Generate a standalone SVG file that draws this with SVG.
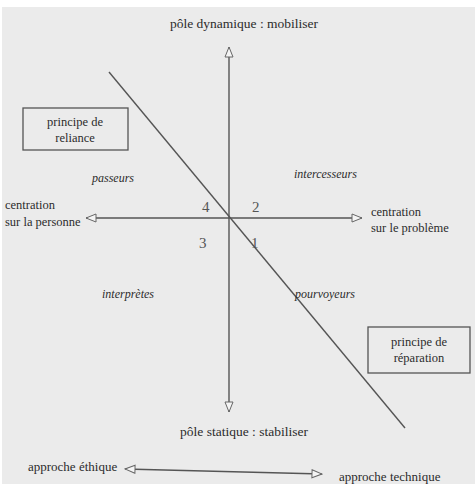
<svg xmlns="http://www.w3.org/2000/svg" width="475" height="484" viewBox="0 0 475 484">
<defs>
<style>
text{font-family:"Liberation Serif","DejaVu Serif",serif;fill:#2c2c2c;font-size:12.5px}
.it{font-style:italic;font-size:12px}
.ttl{font-size:13.5px}
.ap{font-size:13px}
.num{font-size:15px;fill:#555}
.ax{stroke:#555;stroke-width:1.4;fill:none}
.box{fill:none;stroke:#555;stroke-width:1.3}
</style>
<marker id="ah" viewBox="0 0 12 10" refX="11" refY="5" markerWidth="12" markerHeight="10" markerUnits="userSpaceOnUse" orient="auto-start-reverse">
<path d="M1,1 L11,5 L1,9 Z" fill="#f4f4f4" stroke="#666" stroke-width="1"/>
</marker>
</defs>
<rect x="0" y="0" width="475" height="484" fill="#ffffff"/>
<rect x="2" y="7" width="473" height="477" fill="#ebebeb"/>
<g id="connectors">
<line class="ax" x1="229" y1="47" x2="229" y2="412" marker-start="url(#ah)" marker-end="url(#ah)"/>
<line class="ax" x1="86" y1="218" x2="362" y2="218" marker-start="url(#ah)" marker-end="url(#ah)"/>
<line class="ax" x1="109" y1="72" x2="405" y2="428" stroke="#444"/>
<line class="ax" x1="125" y1="469" x2="322" y2="474" marker-start="url(#ah)" marker-end="url(#ah)"/>
</g>
<g id="pole-dynamique"><text class="ttl" x="244" y="28" text-anchor="middle">pôle dynamique : mobiliser</text></g>
<g id="pole-statique"><text class="ttl" x="244" y="436" text-anchor="middle">pôle statique : stabiliser</text></g>
<g id="reliance">
<rect class="box" x="23" y="108" width="105" height="42"/>
<text x="75" y="126" text-anchor="middle">principe de</text>
<text x="75" y="142" text-anchor="middle">reliance</text>
</g>
<g id="reparation">
<rect class="box" x="368" y="327" width="102" height="46"/>
<text x="419" y="346" text-anchor="middle">principe de</text>
<text x="419" y="362" text-anchor="middle">réparation</text>
</g>
<g id="centration-personne">
<text x="5" y="209">centration</text>
<text x="5" y="226">sur la personne</text>
</g>
<g id="centration-probleme">
<text x="371" y="216">centration</text>
<text x="371" y="232">sur le problème</text>
</g>
<g id="passeurs"><text class="it" x="92" y="182">passeurs</text></g>
<g id="intercesseurs"><text class="it" x="294" y="178">intercesseurs</text></g>
<g id="interpretes"><text class="it" x="102" y="298">interprètes</text></g>
<g id="pourvoyeurs"><text class="it" x="295" y="298">pourvoyeurs</text></g>
<g id="q4"><text class="num" x="202" y="212">4</text></g>
<g id="q2"><text class="num" x="252" y="212">2</text></g>
<g id="q3"><text class="num" x="199" y="248">3</text></g>
<g id="q1"><text class="num" x="251" y="248">1</text></g>
<g id="ethique"><text class="ap" x="28" y="471">approche éthique</text></g>
<g id="technique"><text class="ap" x="339" y="481">approche technique</text></g>
</svg>
